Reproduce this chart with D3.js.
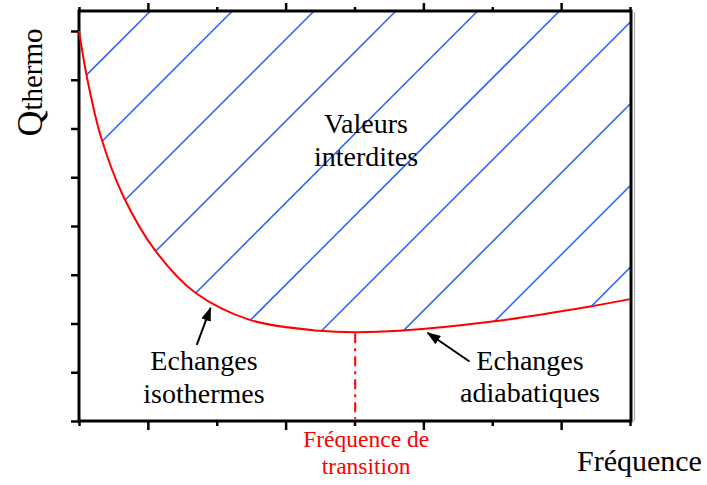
<!DOCTYPE html>
<html>
<head>
<meta charset="utf-8">
<script src="https://cdn.jsdelivr.net/npm/d3@7"></script>
<style>
  html, body { margin: 0; padding: 0; background: #fff; }
  svg { display: block; }
  text { font-family: "Liberation Serif", "Times New Roman", serif; }
</style>
</head>
<body>
<svg id="chart" width="707" height="485"></svg>
<script>
// Boundary curve: minimum heat quantity versus frequency (arbitrary units)
const freq    = [0, 0.12, 0.32, 0.65, 1.11, 1.69, 2.49, 3.50, 4.01, 4.65, 6.00, 7.38, 8.00];
const qthermo = [8.00, 7.02, 5.82, 4.59, 3.49, 2.63, 2.07, 1.85, 1.82, 1.85, 2.04, 2.34, 2.50];

const xTicks = [0, 1, 2, 3, 4, 5, 6, 7, 8];
const xMajorTicks = [1, 3, 5, 7];
const xMinorTicks = [0, 2, 4, 6, 8];
const yTicks = [0, 1, 2, 3, 4, 5, 6, 7, 8];
const transitionFreq = 4.01;

const yLabelMain = "Q";
const yLabelSub = "thermo";
const xLabel = "Fréquence";
const transitionLabel = ["Fréquence de", "transition"];
const regionLabel = ["Valeurs", "interdites"];
const isoLabel = ["Echanges", "isothermes"];
const adiaLabel = ["Echanges", "adiabatiques"];

// Annotation arrows in data units: [tailFreq, tailQ, tipFreq, tipQ]
const isoArrow  = [1.71, 1.56, 1.91, 2.32];
const adiaArrow = [5.67, 1.22, 5.06, 1.81];

const svg = d3.select("#chart");
const box = { left: 79, right: 631, top: 11, bottom: 421 };

const x = d3.scaleLinear().domain([0, 8]).range([79, 630]);
const y = d3.scaleLinear().domain([0, 8]).range([421, 31]);

const pts = freq.map((f, i) => [f, qthermo[i]]);
const curve = d3.curveCatmullRom.alpha(0.5);

// Forbidden region (above the curve) used as clip for the hatching
const area = d3.area()
  .x(d => x(d[0]))
  .y0(box.top)
  .y1(d => y(d[1]))
  .curve(curve);

const defs = svg.append("defs");
defs.append("clipPath").attr("id", "forbidden")
  .append("path").attr("d", area(pts));

defs.append("marker")
  .attr("id", "arrowHead")
  .attr("markerUnits", "userSpaceOnUse")
  .attr("viewBox", "0 0 14 10")
  .attr("refX", 13).attr("refY", 5)
  .attr("markerWidth", 14).attr("markerHeight", 10)
  .attr("orient", "auto")
  .append("path").attr("d", "M0,0 L14,5 L0,10 Z").attr("fill", "#000");

// Diagonal hatching of the forbidden region
const hatch = svg.append("g").attr("clip-path", "url(#forbidden)");
const hatchStart = 161.5, hatchStep = 81.8;
for (let c = hatchStart; c <= box.right + box.bottom; c += hatchStep) {
  hatch.append("line")
    .attr("x1", c - box.bottom).attr("y1", box.bottom)
    .attr("x2", c - box.top).attr("y2", box.top)
    .attr("stroke", "#3366ff").attr("stroke-width", 1.6);
}

// Ticks
const tickStyle = g => {
  g.select(".domain").remove();
  g.selectAll(".tick line").attr("stroke", "#000").attr("stroke-width", 2.5);
  g.selectAll(".tick text").remove();
};
svg.append("g").attr("transform", `translate(${box.left},0)`)
  .call(d3.axisLeft(y).tickValues(yTicks).tickSize(8).tickFormat(""))
  .call(tickStyle);
svg.append("g").attr("transform", `translate(0,${box.bottom})`)
  .call(d3.axisBottom(x).tickValues(xMajorTicks).tickSize(9).tickFormat(""))
  .call(tickStyle);
svg.append("g").attr("transform", `translate(0,${box.bottom})`)
  .call(d3.axisBottom(x).tickValues(xMinorTicks).tickSize(5).tickFormat(""))
  .call(tickStyle);
svg.append("g").attr("transform", `translate(0,${box.top})`)
  .call(d3.axisTop(x).tickValues(xMajorTicks).tickSize(8).tickFormat(""))
  .call(tickStyle);
svg.append("g").attr("transform", `translate(0,${box.top})`)
  .call(d3.axisTop(x).tickValues(xMinorTicks).tickSize(4).tickFormat(""))
  .call(tickStyle);

// Frame
svg.append("line")
  .attr("x1", box.right + 3.5).attr("x2", box.right + 3.5)
  .attr("y1", box.top + 1).attr("y2", box.bottom)
  .attr("stroke", "#aaa").attr("stroke-width", 1.2);
svg.append("rect")
  .attr("x", box.left).attr("y", box.top)
  .attr("width", box.right - box.left).attr("height", box.bottom - box.top)
  .attr("fill", "none").attr("stroke", "#000").attr("stroke-width", 3);

// Transition frequency marker
const minIdx = d3.minIndex(qthermo);
svg.append("line")
  .attr("x1", x(transitionFreq)).attr("x2", x(transitionFreq))
  .attr("y1", y(qthermo[minIdx]) + 1).attr("y2", box.bottom - 2)
  .attr("stroke", "#ff0000").attr("stroke-width", 2)
  .attr("stroke-dasharray", "10,5,3,5");

// Boundary curve
svg.append("path")
  .attr("d", d3.line().x(d => x(d[0])).y(d => y(d[1])).curve(curve)(pts))
  .attr("fill", "none").attr("stroke", "#ff0000").attr("stroke-width", 2);

// Arrows
[isoArrow, adiaArrow].forEach(a => {
  svg.append("line")
    .attr("x1", x(a[0])).attr("y1", y(a[1]))
    .attr("x2", x(a[2])).attr("y2", y(a[3]))
    .attr("stroke", "#000").attr("stroke-width", 2)
    .attr("marker-end", "url(#arrowHead)");
});

// Text blocks
function block(lines, cx, baseY, size, color, gap) {
  const t = svg.append("text")
    .attr("text-anchor", "middle")
    .attr("font-size", size)
    .attr("fill", color);
  lines.forEach((s, i) => {
    t.append("tspan").attr("x", cx).attr("y", baseY + i * gap).text(s);
  });
}
block(regionLabel, 366, 133, 28, "#000", 33);
block(isoLabel, 204, 370, 28, "#000", 33);
block(adiaLabel, 530, 370, 28, "#000", 32);
block(transitionLabel, x(transitionFreq) + 11, 447, 23.5, "#ff0000", 27);

svg.append("text")
  .attr("x", 577).attr("y", 471)
  .attr("font-size", 30)
  .text(xLabel);

const yl = svg.append("text")
  .attr("transform", "translate(42,82.5) rotate(-90)")
  .attr("text-anchor", "middle");
yl.append("tspan").attr("font-size", 36).text(yLabelMain);
yl.append("tspan").attr("font-size", 29).text(yLabelSub);
</script>
</body>
</html>
